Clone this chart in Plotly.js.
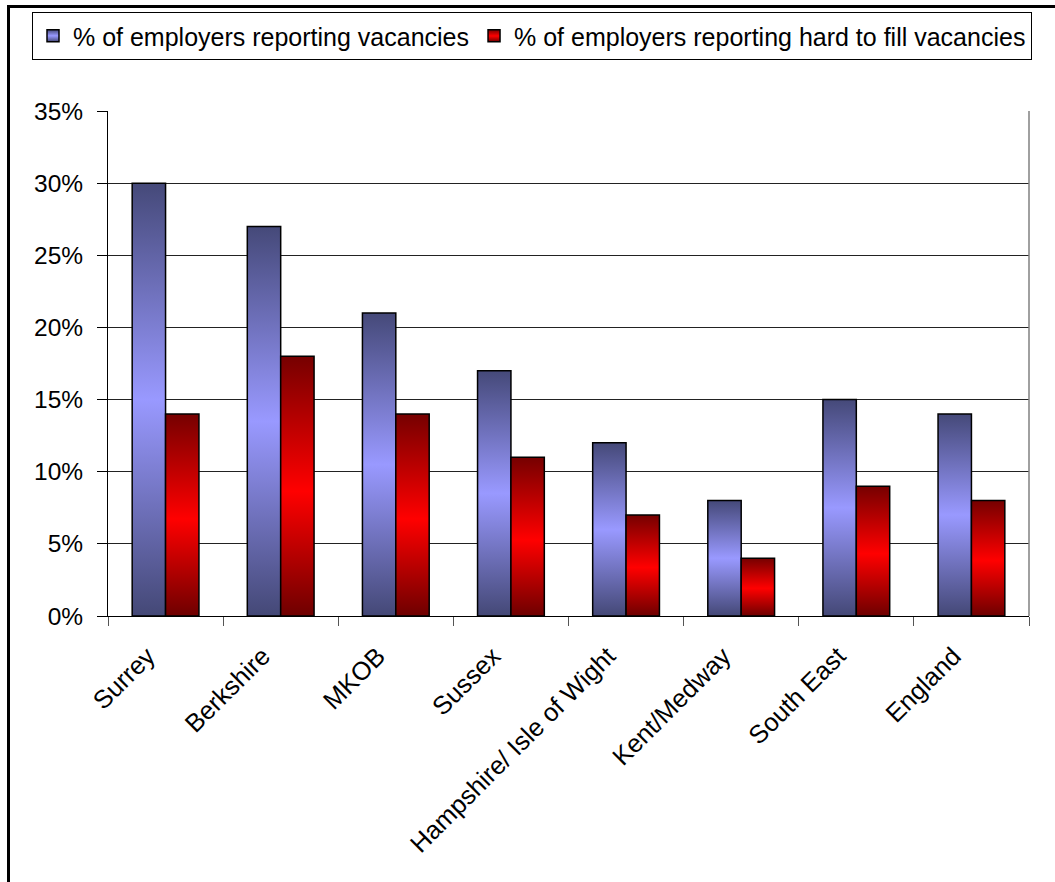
<!DOCTYPE html>
<html>
<head>
<meta charset="utf-8">
<script src="https://cdn.plot.ly/plotly-3.0.1.min.js"></script>
<style>
  html, body { margin: 0; padding: 0; background: #ffffff; }
  #wrap { position: relative; width: 1055px; height: 882px; overflow: hidden; background: #fff; }
  #frame { position: absolute; left: 7px; top: 5px; width: 1100px; height: 950px;
           border-left: 3px solid #000; border-top: 3px solid #000; pointer-events: none; z-index: 2; }
  #chart { position: absolute; left: 0; top: 0; width: 1055px; height: 882px; z-index: 1; }
</style>
</head>
<body>
<div id="wrap">
  <div id="frame"></div>
  <div id="chart"></div>
</div>
<script>
// ---- data ----
const categories = ["Surrey", "Berkshire", "MKOB", "Sussex", "Hampshire/ Isle of Wight", "Kent/Medway", "South East", "England"];
const vacancies = [0.30, 0.27, 0.21, 0.17, 0.12, 0.08, 0.15, 0.14];
const hardToFill = [0.14, 0.18, 0.14, 0.11, 0.07, 0.04, 0.09, 0.08];
const seriesNames = ["% of employers reporting vacancies", "% of employers reporting hard to fill vacancies"];
const yTickVals = [0, 0.05, 0.10, 0.15, 0.20, 0.25, 0.30, 0.35];

const FONT = "Liberation Sans, Arial, sans-serif";

const traces = [
  {
    type: "bar", name: seriesNames[0], x: categories, y: vacancies,
    marker: { color: "#8a8ae6", line: { color: "#000", width: 1.5 } },
    hoverinfo: "skip"
  },
  {
    type: "bar", name: seriesNames[1], x: categories, y: hardToFill,
    marker: { color: "#d00000", line: { color: "#000", width: 1.5 } },
    hoverinfo: "skip"
  }
];

const W = 1055, H = 882;
const mL = 108, mR = 26, mT = 111, mB = 266;
const plotW = W - mL - mR, plotH = H - mT - mB;

const layout = {
  width: W, height: H,
  margin: { l: mL, r: mR, t: mT, b: mB, pad: 0 },
  paper_bgcolor: "rgba(0,0,0,0)",
  plot_bgcolor: "#ffffff",
  font: { family: FONT, size: 24.5, color: "#000" },
  barmode: "group",
  bargap: 0.42,
  bargroupgap: 0,
  showlegend: true,
  legend: {
    orientation: "h",
    x: (32 - mL) / plotW, xanchor: "left",
    y: 1 + (mT - 12) / plotH,
    yanchor: "top",
    bordercolor: "#000", borderwidth: 1,
    bgcolor: "#fff",
    font: { family: FONT, size: 25, color: "#000" },
    itemclick: false, itemdoubleclick: false,
    traceorder: "normal"
  },
  xaxis: {
    type: "category",
    tickangle: -45,
    tickson: "boundaries",
    ticks: "outside", ticklen: 9, tickcolor: "#555", tickwidth: 1,
    ticklabelshift: -18,
    ticklabelstandoff: 14,
    showline: true, linecolor: "#000", linewidth: 1,
    showgrid: false, zeroline: false,
    tickfont: { family: FONT, size: 25.5, color: "#000" },
    fixedrange: true
  },
  yaxis: {
    range: [0, 0.35],
    tickvals: yTickVals,
    tickformat: ".0%",
    ticks: "outside", ticklen: 10, tickcolor: "#000", tickwidth: 1,
    ticklabelstandoff: 9,
    showline: true, linecolor: "#000", linewidth: 1,
    showgrid: true, gridcolor: "#222", gridwidth: 1,
    zeroline: false,
    tickfont: { family: FONT, size: 24.5, color: "#000" },
    fixedrange: true
  },
  shapes: [
    { type: "line", xref: "paper", yref: "paper", x0: 1, x1: 1, y0: 0, y1: 1,
      line: { color: "#808080", width: 1.5 } }
  ]
};

function addGradients(gd) {
  const svg = gd.querySelector("svg.main-svg");
  const ns = "http://www.w3.org/2000/svg";
  let defs = svg.querySelector("defs");
  if (!defs) { defs = document.createElementNS(ns, "defs"); svg.insertBefore(defs, svg.firstChild); }
  function grad(id, stops) {
    const g = document.createElementNS(ns, "linearGradient");
    g.setAttribute("id", id);
    g.setAttribute("x1", "0"); g.setAttribute("y1", "0");
    g.setAttribute("x2", "0"); g.setAttribute("y2", "1");
    stops.forEach(function (s) {
      const st = document.createElementNS(ns, "stop");
      st.setAttribute("offset", s[0]);
      st.setAttribute("stop-color", s[1]);
      g.appendChild(st);
    });
    defs.appendChild(g);
  }
  grad("gBlue", [["0", "#454979"], ["0.5", "#9999ff"], ["1", "#444876"]]);
  grad("gRed", [["0", "#760000"], ["0.52", "#ff0000"], ["1", "#6e0000"]]);
  const ids = ["gBlue", "gRed"];
  const barTraces = gd.querySelectorAll(".barlayer .trace");
  barTraces.forEach(function (t, i) {
    t.querySelectorAll("path").forEach(function (p) { p.style.fill = "url(#" + ids[i] + ")"; });
  });
  const legTraces = gd.querySelectorAll(".legend .traces");
  legTraces.forEach(function (t, i) {
    t.querySelectorAll(".legendpoints path").forEach(function (p) { p.style.fill = "url(#" + ids[i] + ")"; });
  });
}

Plotly.newPlot("chart", traces, layout, { staticPlot: true, displayModeBar: false }).then(addGradients);
</script>
</body>
</html>
